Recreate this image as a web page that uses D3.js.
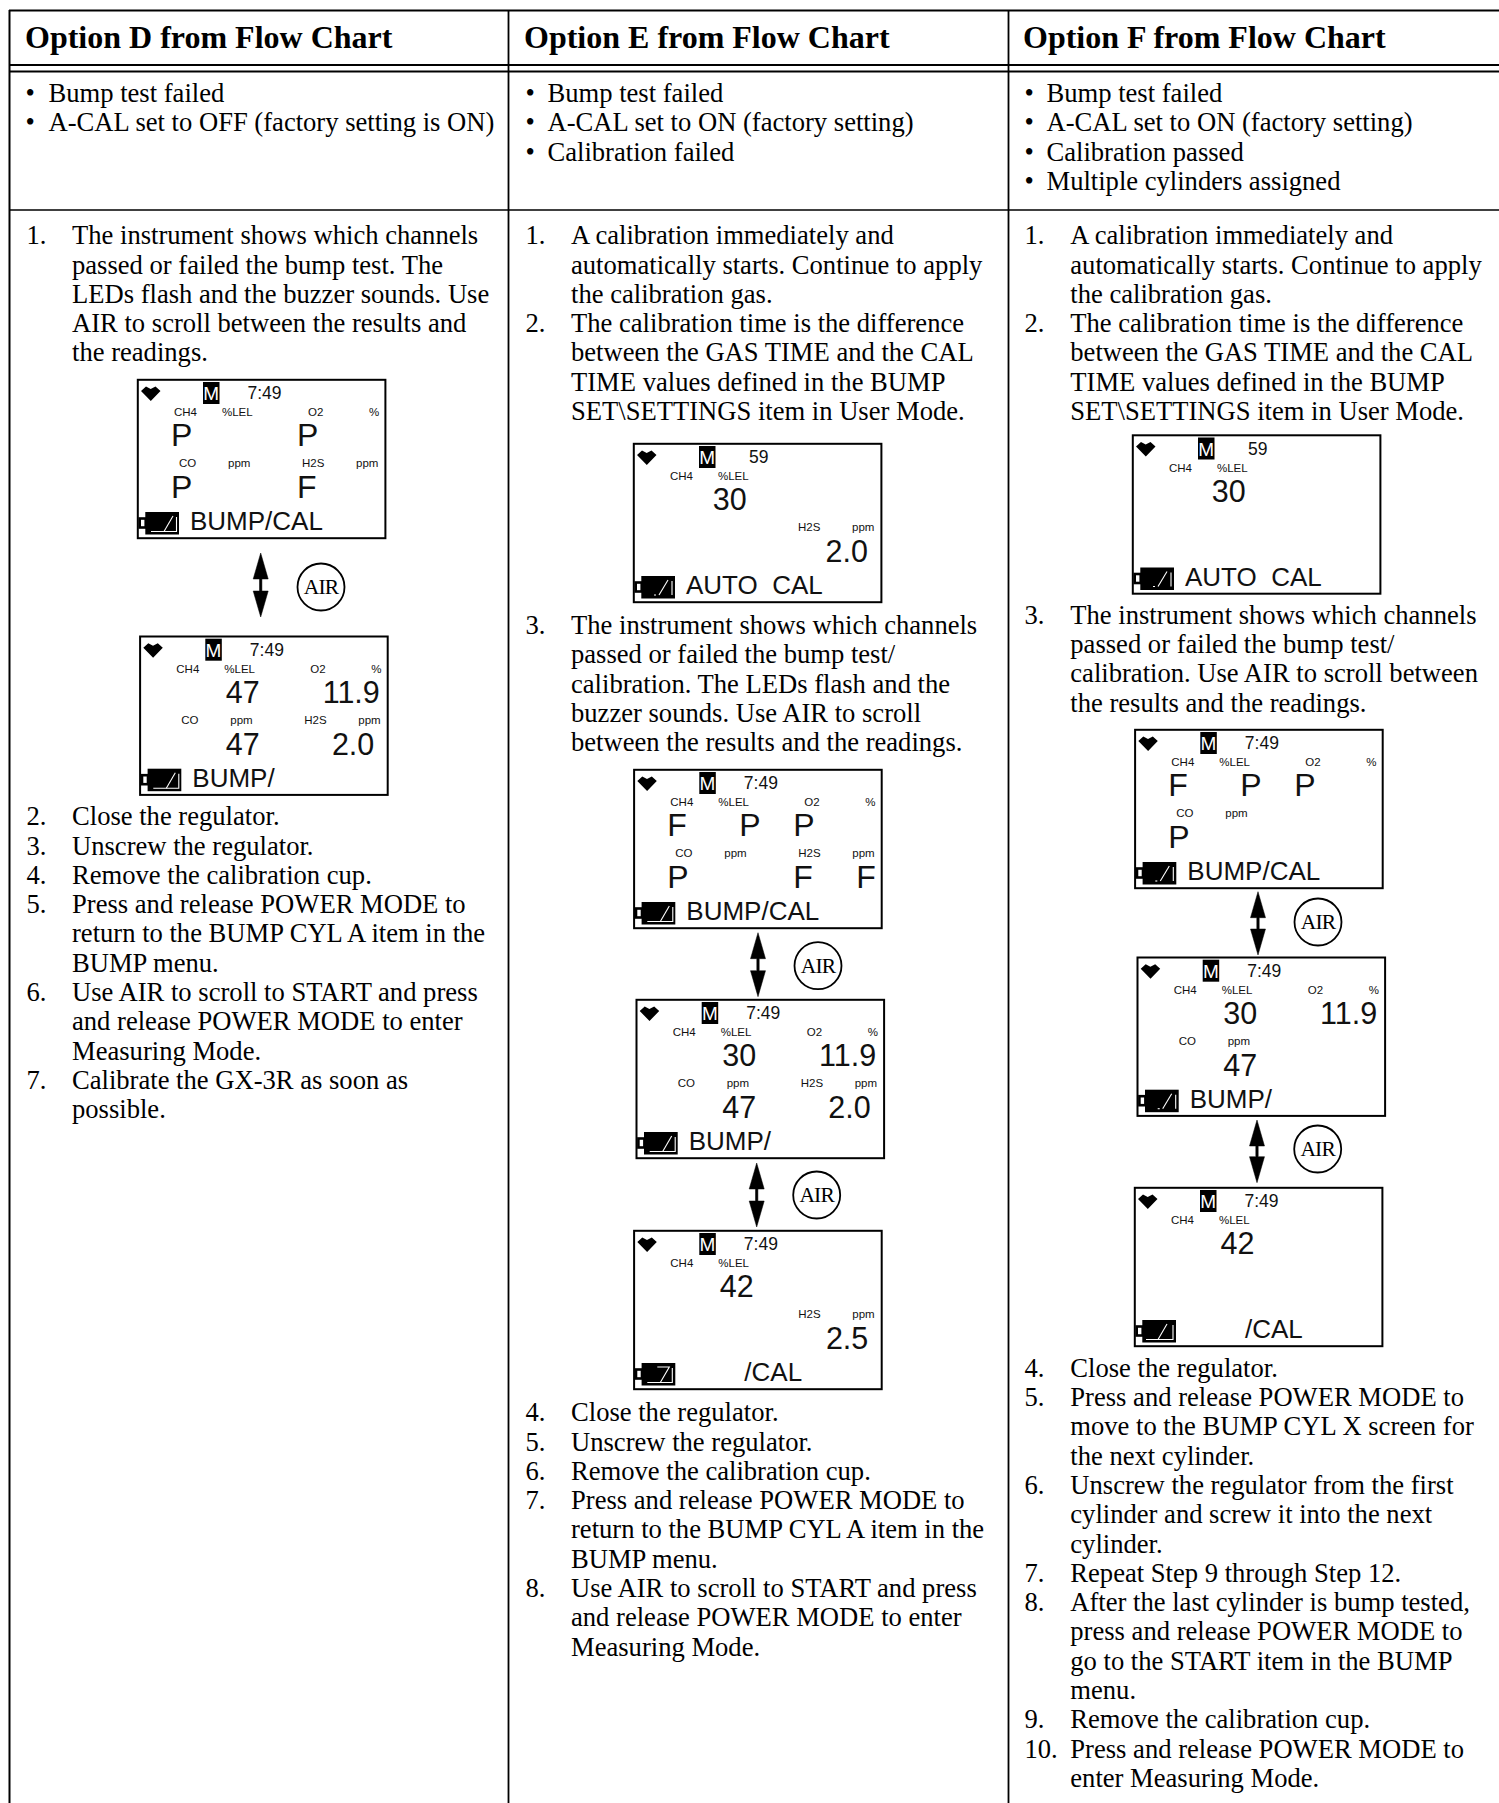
<!DOCTYPE html>
<html><head><meta charset="utf-8">
<script src="https://cdnjs.cloudflare.com/ajax/libs/d3/7.8.5/d3.min.js"></script>
<style>html,body{margin:0;padding:0;background:#fff}svg{display:block}</style>
</head><body><div id="c"></div>
<script>
const headers = ["Option D from Flow Chart","Option E from Flow Chart","Option F from Flow Chart"];
const conditions = [
 ["Bump test failed","A-CAL set to OFF (factory setting is ON)"],
 ["Bump test failed","A-CAL set to ON (factory setting)","Calibration failed"],
 ["Bump test failed","A-CAL set to ON (factory setting)","Calibration passed","Multiple cylinders assigned"]
];
const stepsD = [
 [["1.","The instrument shows which channels","passed or failed the bump test. The","LEDs flash and the buzzer sounds. Use","AIR to scroll between the results and","the readings."]],
 [["2.","Close the regulator."],["3.","Unscrew the regulator."],["4.","Remove the calibration cup."],
  ["5.","Press and release POWER MODE to","return to the BUMP CYL A item in the","BUMP menu."],
  ["6.","Use AIR to scroll to START and press","and release POWER MODE to enter","Measuring Mode."],
  ["7.","Calibrate the GX-3R as soon as","possible."]]
];
const stepsE = [
 [["1.","A calibration immediately and","automatically starts. Continue to apply","the calibration gas."],
  ["2.","The calibration time is the difference","between the GAS TIME and the CAL","TIME values defined in the BUMP","SET\\SETTINGS item in User Mode."]],
 [["3.","The instrument shows which channels","passed or failed the bump test/","calibration. The LEDs flash and the","buzzer sounds. Use AIR to scroll","between the results and the readings."]],
 [["4.","Close the regulator."],["5.","Unscrew the regulator."],["6.","Remove the calibration cup."],
  ["7.","Press and release POWER MODE to","return to the BUMP CYL A item in the","BUMP menu."],
  ["8.","Use AIR to scroll to START and press","and release POWER MODE to enter","Measuring Mode."]]
];
const stepsF = [
 [["1.","A calibration immediately and","automatically starts. Continue to apply","the calibration gas."],
  ["2.","The calibration time is the difference","between the GAS TIME and the CAL","TIME values defined in the BUMP","SET\\SETTINGS item in User Mode."]],
 [["3.","The instrument shows which channels","passed or failed the bump test/","calibration. Use AIR to scroll between","the results and the readings."]],
 [["4.","Close the regulator."],
  ["5.","Press and release POWER MODE to","move to the BUMP CYL X screen for","the next cylinder."],
  ["6.","Unscrew the regulator from the first","cylinder and screw it into the next","cylinder."],
  ["7.","Repeat Step 9 through Step 12."],
  ["8.","After the last cylinder is bump tested,","press and release POWER MODE to","go to the START item in the BUMP","menu."],
  ["9.","Remove the calibration cup."],
  ["10.","Press and release POWER MODE to","enter Measuring Mode."]]
];
const allFour = ["CH4","O2","CO","H2S"];
const screenD1 = {time:"7:49",channels:allFour,readings:[["P","p0",0],["P","p2",0],["P","p0",1],["F","p2",1]],status:"BUMP/CAL",batt:"a"};
const screenD2 = {time:"7:49",channels:allFour,readings:[["47","n0",0],["11.9","n1",0],["47","n0",1],["2.0","n2",1]],status:"BUMP/",batt:"a"};
const screenE1 = {time:"59",channels:["CH4","H2S"],readings:[["30","n3",0],["2.0","n2",1]],status:"AUTO\u00a0\u00a0CAL",batt:"b"};
const screenE2 = {time:"7:49",channels:allFour,readings:[["F","p0",0],["P","p1",0],["P","p2",0],["P","p0",1],["F","p2",1],["F","p3",1]],status:"BUMP/CAL",batt:"a"};
const screenE3 = {time:"7:49",channels:allFour,readings:[["30","n0",0],["11.9","n1",0],["47","n0",1],["2.0","n2",1]],status:"BUMP/",batt:"a"};
const screenE4 = {time:"7:49",channels:["CH4","H2S"],readings:[["42","n0",0],["2.5","n2",1]],status:"/CAL",batt:"c"};
const screenF1 = {time:"59",channels:["CH4"],readings:[["30","n3",0]],status:"AUTO\u00a0\u00a0CAL",batt:"b"};
const screenF2 = {time:"7:49",channels:["CH4","O2","CO"],readings:[["F","p0",0],["P","p1",0],["P","p2",0],["P","p0",1]],status:"BUMP/CAL",batt:"b"};
const screenF3 = {time:"7:49",channels:["CH4","O2","CO"],readings:[["30","n0",0],["11.9","n1",0],["47","n0",1]],status:"BUMP/",batt:"b"};
const screenF4 = {time:"7:49",channels:["CH4"],readings:[["42","n0",0]],status:"/CAL",batt:"d"};
const units = {CH4:"%LEL",O2:"%",CO:"ppm",H2S:"ppm"};

// ---- layout ----
const W=1499,H=1803;
const svg=d3.select("#c").append("svg").attr("width",W).attr("height",H).attr("viewBox",`0 0 ${W} ${H}`);
const SERIF="'Liberation Serif','Times New Roman',serif", SANS="'Liberation Sans',Arial,sans-serif";
const COLS=[
 {head:25,bullet:25.5,btext:48.5,num:26.5,text:72,steps:stepsD,starts:[244.2,825.2]},
 {head:524,bullet:525.5,btext:547.5,num:525.5,text:571,steps:stepsE,starts:[244.2,634,1421.2]},
 {head:1023,bullet:1024.5,btext:1046.5,num:1024.5,text:1070.3,steps:stepsF,starts:[244.2,623.7,1376.6]}
];
const LH=29.32, FS=26.6;

const rules=[
 {x1:9,x2:W,y1:10.5,y2:10.5,w:2},{x1:9,x2:W,y1:65,y2:65,w:2},{x1:9,x2:W,y1:71.5,y2:71.5,w:2},{x1:9,x2:W,y1:210,y2:210,w:1.6},
 {x1:9.5,x2:9.5,y1:10,y2:H,w:2},{x1:508.5,x2:508.5,y1:10,y2:H,w:1.8},{x1:1008.5,x2:1008.5,y1:10,y2:H,w:1.8}
];
svg.append("g").selectAll("line").data(rules).join("line")
 .attr("x1",d=>d.x1).attr("x2",d=>d.x2).attr("y1",d=>d.y1).attr("y2",d=>d.y2)
 .attr("stroke","#000").attr("stroke-width",d=>d.w);

const colG=svg.selectAll("g.col").data(COLS).join("g").attr("class","col");
colG.append("text").attr("x",d=>d.head).attr("y",47.6).text((d,i)=>headers[i])
 .attr("font-family",SERIF).attr("font-weight","bold").attr("font-size",32);

colG.each(function(col,i){
 const g=d3.select(this);
 const cg=g.append("g").attr("font-family",SERIF).attr("font-size",FS);
 conditions[i].forEach((t,k)=>{
  const y=102+k*29.3;
  cg.append("text").attr("x",col.bullet).attr("y",y).text("\u2022");
  cg.append("text").attr("x",col.btext).attr("y",y).text(t);
 });
 col.steps.forEach((block,b)=>{
  let y=col.starts[b];
  block.forEach(step=>{
   cg.append("text").attr("x",col.num).attr("y",y).text(step[0]);
   step.slice(1).forEach(line=>{
    cg.append("text").attr("x",col.text).attr("y",y).text(line);
    y+=LH;
   });
  });
 });
});

const labelX={CH4:[37,85],O2:[171,232],CO:[42,91],H2S:[165,219]};
const labelY={CH4:37,O2:37,CO:88,H2S:88};
const endX={n0:120.5,n1:240.5,n2:235,n3:113.8};
const startX={p0:34,p1:106,p2:160,p3:223};
const rowY=[67,119];

function drawScreen(s,x,y){
 const g=svg.append("g").attr("transform",`translate(${x},${y})`).attr("font-family",SANS).attr("fill","#111");
 g.append("rect").attr("x",0.8).attr("y",0.8).attr("width",247.6).attr("height",158.4)
  .attr("fill","#fff").attr("stroke","#000").attr("stroke-width",2);
 g.append("path").attr("d","M4,12 L9,7.5 L13.7,10 L18.5,7.5 L23.5,12 L13.8,22 Z").attr("fill","#000");
 g.append("rect").attr("x",66).attr("y",3).attr("width",16.5).attr("height",22).attr("fill","#000");
 g.append("text").attr("x",74.2).attr("y",21).attr("text-anchor","middle").attr("font-size",19).attr("fill","#fff").text("M");
 g.append("text").attr("x",s.time.length>2?110.5:116).attr("y",20).attr("font-size",17.5).text(s.time);
 s.channels.forEach(c=>{
  g.append("text").attr("x",labelX[c][0]).attr("y",labelY[c]).attr("font-size",11.5).text(c);
  g.append("text").attr("x",labelX[c][1]).attr("y",labelY[c]).attr("font-size",11.5).text(units[c]);
 });
 s.readings.forEach(r=>{
  const numeric=r[1][0]==="n";
  g.append("text").attr("x",numeric?endX[r[1]]:startX[r[1]]).attr("y",rowY[r[2]])
   .attr("text-anchor",numeric?"end":"start").attr("font-size",numeric?30.5:32).text(r[0]);
 });
 g.append("rect").attr("x",2.7).attr("y",139.5).attr("width",6).attr("height",9).attr("fill","#fff").attr("stroke","#000").attr("stroke-width",2.6);
 g.append("rect").attr("x",8.3).attr("y",133).attr("width",33.7).attr("height",22.5).attr("fill","#000");
 const white=d=>g.append("path").attr("d",d).attr("fill","none").attr("stroke","#fff").attr("stroke-width",1.1);
 const variants={
  a:()=>{white("M14,152.5 H39.5 V138");white("M27,152.5 L36,137");},
  b:()=>{white("M39,138 V152");white("M26,152 L35,137");white("M21,152 H23");},
  c:()=>{white("M24,137 H36 L27,152.5");white("M14,152.5 H39 V138");},
  d:()=>{white("M24,152.5 L33,137");white("M12,152.5 H39 V138");}
 };
 variants[s.batt]();
 g.append("text").attr("x",s.status.startsWith("/")?111:53).attr("y",151).attr("font-size",26).text(s.status);
}
[[screenD1,137,379],[screenD2,139.3,635.7],[screenE1,633,443],[screenE2,633.3,769],[screenE3,635.7,999],[screenE4,633.3,1230],
 [screenF1,1132,434.5],[screenF2,1134.3,729],[screenF3,1136.7,956.7],[screenF4,1134,1187]].forEach(a=>drawScreen(...a));

const arrows=[
 {x:260.7,y1:553,y2:617,cx:321,cy:587},{x:758,y1:932.7,y2:996.7,cx:818,cy:965.7},{x:756.7,y1:1163,y2:1227,cx:816.7,cy:1195},
 {x:1258,y1:891.7,y2:955,cx:1318,cy:922},{x:1257,y1:1120,y2:1182.7,cx:1317.7,cy:1149}
];
const ag=svg.append("g").selectAll("g").data(arrows).join("g");
ag.append("path").attr("fill","#000").attr("stroke","#000").attr("stroke-width",0.5).attr("d",d=>
 `M${d.x},${d.y1} L${d.x+7.5},${d.y1+26} H${d.x+1.2} V${d.y2-26} H${d.x+7.5} L${d.x},${d.y2} L${d.x-7.5},${d.y2-26} H${d.x-1.2} V${d.y1+26} H${d.x-7.5} Z`);
ag.append("circle").attr("cx",d=>d.cx).attr("cy",d=>d.cy).attr("r",23.5).attr("fill","#fff").attr("stroke","#000").attr("stroke-width",1.8);
ag.append("text").attr("x",d=>d.cx).attr("y",d=>d.cy+7).attr("text-anchor","middle").attr("font-family",SERIF).attr("font-size",21.5).attr("letter-spacing",-0.8).text("AIR");
</script></body></html>
